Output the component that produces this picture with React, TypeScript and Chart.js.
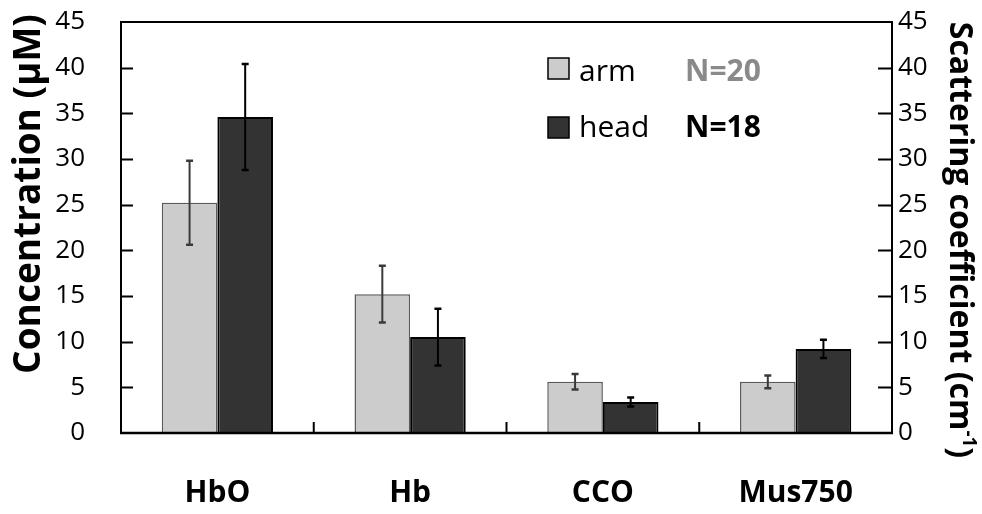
import React, { useEffect, useRef } from 'react';
import { Chart, registerables } from 'chart.js';

Chart.register(...registerables);

// ---- data ----
const categories = ['HbO', 'Hb', 'CCO', 'Mus750'];
const seriesLabels = ['arm', 'head'];
const seriesN = ['N=20', 'N=18'];
const armValues = [25.2, 15.2, 5.6, 5.6];
const armErrors = [4.6, 3.1, 0.85, 0.7];
const headValues = [34.6, 10.5, 3.4, 9.2];
const headErrors = [5.8, 3.1, 0.5, 1.0];
const yMin = 0;
const yMax = 45;
const yStep = 5;
const leftTitle = 'Concentration (µM)';
const rightTitleMain = 'Scattering coefficient (cm';
const rightTitleSup = '-1';
const rightTitleEnd = ')';

// ---- styles ----
const FONT = "'Open Sans', 'DejaVu Sans', sans-serif";
const armFill = '#cccccc';
const armBorder = '#5a5a5a';
const headFill = '#333333';
const headBorder = '#000000';
const armErrColor = '#3a3a3a';
const headErrColor = '#000000';
const nColors = ['#8a8a8a', '#000000'];

const decorPlugin = {
  id: 'decor',
  afterDatasetsDraw(chart: any) {
    const ctx = chart.ctx;
    const y = chart.scales.y;
    const errs = [armErrors, headErrors];
    const vals = [armValues, headValues];
    const cols = [armErrColor, headErrColor];
    ctx.save();
    for (let d = 0; d < 2; d++) {
      const meta = chart.getDatasetMeta(d);
      meta.data.forEach((el: any, j: number) => {
        const v = vals[d][j];
        const e = errs[d][j];
        const top = y.getPixelForValue(v + e);
        const bot = y.getPixelForValue(v - e);
        const x = el.x;
        ctx.strokeStyle = cols[d];
        ctx.lineWidth = 2;
        ctx.beginPath();
        ctx.moveTo(x, top);
        ctx.lineTo(x, bot);
        ctx.stroke();
        ctx.lineWidth = 2.5;
        ctx.beginPath();
        ctx.moveTo(x - 3.5, top);
        ctx.lineTo(x + 3.5, top);
        ctx.moveTo(x - 3.5, bot);
        ctx.lineTo(x + 3.5, bot);
        ctx.stroke();
      });
    }
    ctx.restore();
  },
  afterDraw(chart: any) {
    const ctx = chart.ctx;
    const { left, right, top, bottom } = chart.chartArea;
    const y = chart.scales.y;
    const x = chart.scales.x;
    ctx.save();
    ctx.strokeStyle = '#000';
    // box
    ctx.lineWidth = 2;
    ctx.beginPath();
    ctx.moveTo(left, bottom);
    ctx.lineTo(left, top);
    ctx.lineTo(right, top);
    ctx.lineTo(right, bottom);
    ctx.stroke();
    ctx.lineWidth = 2.5;
    ctx.beginPath();
    ctx.moveTo(left - 1, bottom);
    ctx.lineTo(right + 1, bottom);
    ctx.stroke();
    // inward y ticks
    ctx.lineWidth = 2;
    ctx.beginPath();
    y.ticks.forEach((t: any) => {
      if (t.value <= yMin || t.value >= yMax) return;
      const py = Math.round(y.getPixelForValue(t.value)) + 0.5;
      ctx.moveTo(left, py);
      ctx.lineTo(left + 12, py);
      ctx.moveTo(right, py);
      ctx.lineTo(right - 14, py);
    });
    ctx.stroke();
    // category separator ticks
    ctx.lineWidth = 2;
    ctx.beginPath();
    for (let i = 1; i < categories.length; i++) {
      const px = (x.getPixelForValue(i - 1) + x.getPixelForValue(i)) / 2;
      ctx.moveTo(px, bottom);
      ctx.lineTo(px, bottom - 11);
    }
    ctx.stroke();

    // legend
    const fills = [armFill, headFill];
    const legendTop = [58, 117];
    const baselines = [81, 137];
    for (let i = 0; i < 2; i++) {
      ctx.fillStyle = fills[i];
      ctx.fillRect(548, legendTop[i], 21, 21);
      ctx.lineWidth = 1.5;
      ctx.strokeStyle = '#000';
      ctx.strokeRect(548, legendTop[i], 21, 21);
      ctx.fillStyle = '#000';
      ctx.font = `30px ${FONT}`;
      ctx.textAlign = 'left';
      ctx.textBaseline = 'alphabetic';
      ctx.fillText(seriesLabels[i], 579, baselines[i]);
      ctx.fillStyle = nColors[i];
      ctx.font = `bold 30px ${FONT}`;
      ctx.fillText(seriesN[i], 685, baselines[i]);
    }

    // left title
    ctx.save();
    ctx.translate(29, 194);
    ctx.rotate(-Math.PI / 2);
    ctx.fillStyle = '#000';
    ctx.font = `bold 37px ${FONT}`;
    ctx.textAlign = 'center';
    ctx.textBaseline = 'middle';
    ctx.fillText(leftTitle, 0, 0);
    ctx.restore();

    // right title with superscript
    ctx.save();
    ctx.translate(959, 240);
    ctx.rotate(Math.PI / 2);
    ctx.fillStyle = '#000';
    const mainFont = `bold 32px ${FONT}`;
    const supFont = `bold 19px ${FONT}`;
    ctx.font = mainFont;
    const w1 = ctx.measureText(rightTitleMain).width;
    const w3 = ctx.measureText(rightTitleEnd).width;
    ctx.font = supFont;
    const w2 = ctx.measureText(rightTitleSup).width;
    const total = w1 + w2 + w3;
    let cx = -total / 2;
    ctx.textAlign = 'left';
    ctx.textBaseline = 'middle';
    ctx.font = mainFont;
    ctx.fillText(rightTitleMain, cx, 0);
    cx += w1;
    ctx.font = supFont;
    ctx.fillText(rightTitleSup, cx, -9);
    cx += w2;
    ctx.font = mainFont;
    ctx.fillText(rightTitleEnd, cx, 0);
    ctx.restore();

    ctx.restore();
  },
};

const zeroPad = (s: any) => {
  s.paddingTop = 0;
  s.paddingBottom = 0;
  s.paddingLeft = 0;
  s.paddingRight = 0;
};

export default function App() {
  const ref = useRef<HTMLCanvasElement | null>(null);
  useEffect(() => {
    if (!ref.current) return;
    const chart = new Chart(ref.current, {
      type: 'bar',
      data: {
        labels: categories,
        datasets: [
          {
            label: seriesLabels[0],
            data: armValues,
            backgroundColor: armFill,
            borderColor: armBorder,
            borderWidth: 1.5,
            borderSkipped: 'bottom',
            categoryPercentage: 0.577,
            barPercentage: 1.0,
            yAxisID: 'y',
          },
          {
            label: seriesLabels[1],
            data: headValues,
            backgroundColor: headFill,
            borderColor: headBorder,
            borderWidth: 2,
            borderSkipped: 'bottom',
            categoryPercentage: 0.577,
            barPercentage: 1.0,
            yAxisID: 'y',
          },
        ],
      },
      options: {
        responsive: false,
        animation: false,
        layout: { padding: { top: 22, left: 0, right: 0, bottom: 0 } },
        plugins: {
          legend: { display: false },
          tooltip: { enabled: false },
          title: { display: false },
        },
        scales: {
          x: {
            type: 'category',
            grid: { display: false, drawTicks: false },
            border: { display: false },
            ticks: {
              color: '#000',
              font: { family: FONT, size: 30, weight: 'bold' },
              padding: 42,
              maxRotation: 0,
            },
            afterFit: (s: any) => {
              s.height = 81;
              zeroPad(s);
            },
          },
          y: {
            position: 'left',
            min: yMin,
            max: yMax,
            grid: { display: false, drawTicks: false },
            border: { display: false },
            ticks: {
              stepSize: yStep,
              color: '#000',
              font: { family: FONT, size: 26 },
              padding: 36,
            },
            afterFit: (s: any) => {
              s.width = 121;
              zeroPad(s);
            },
          },
          y1: {
            position: 'right',
            min: yMin,
            max: yMax,
            grid: { display: false, drawTicks: false },
            border: { display: false },
            ticks: {
              stepSize: yStep,
              color: '#000',
              font: { family: FONT, size: 26 },
              padding: 6,
            },
            afterFit: (s: any) => {
              s.width = 90;
              zeroPad(s);
            },
          },
        },
      },
      plugins: [decorPlugin],
    } as any);
    return () => chart.destroy();
  }, []);
  return (
    <div style={{ position: 'absolute', left: 0, top: 0, width: 982, height: 514, background: '#fff' }}>
      <canvas ref={ref} width={982} height={514} />
    </div>
  );
}
